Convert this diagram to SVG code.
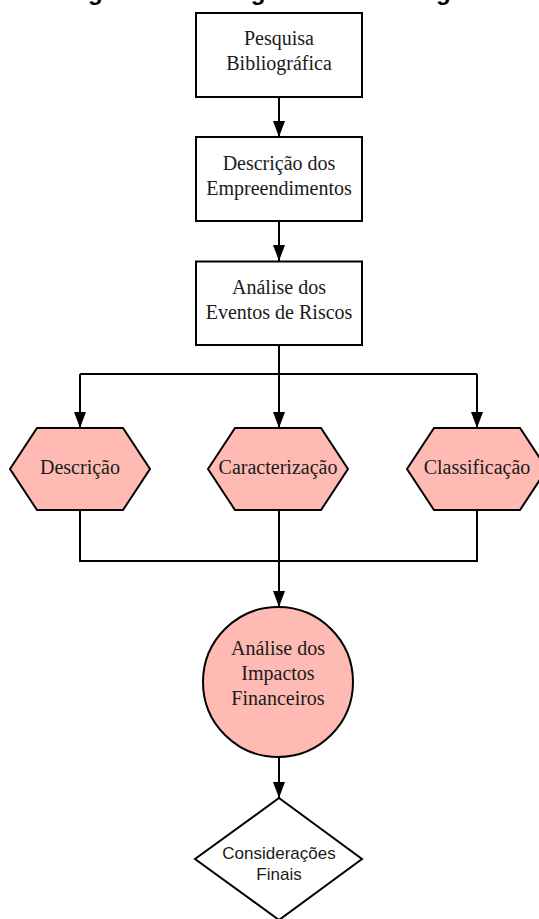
<svg xmlns="http://www.w3.org/2000/svg" width="539" height="919" viewBox="0 0 539 919">
<style>
.box{fill:#fff;stroke:#000;stroke-width:2}
.pink{fill:#FFBBB3;stroke:#000;stroke-width:2}
.t{font-family:"Liberation Serif","Times New Roman",serif;font-size:20px;fill:#1a1a1a;text-anchor:middle}
.s{font-family:"Liberation Sans",Arial,sans-serif;font-size:17px;fill:#1a1a1a;text-anchor:middle}
.title{font-family:"Liberation Sans",Arial,sans-serif;font-size:24px;font-weight:bold;fill:#000;text-anchor:middle}
.c{fill:none;stroke:#000;stroke-width:2}
</style>
<defs>
<marker id="ah" markerUnits="userSpaceOnUse" markerWidth="16" markerHeight="12" refX="16" refY="6" orient="auto">
<path d="M0,0 L16,6 L0,12 z" fill="#000"/>
</marker>
</defs>
<text class="title" x="276" y="0">Figura 3 – Fluxograma Metodológico</text>
<g id="connectors">
<line class="c" x1="279" y1="97" x2="279" y2="137" marker-end="url(#ah)"/>
<line class="c" x1="279" y1="221" x2="279" y2="261" marker-end="url(#ah)"/>
<path class="c" d="M279,345 V374"/>
<path class="c" d="M80,374 H477"/>
<line class="c" x1="80" y1="374" x2="80" y2="428" marker-end="url(#ah)"/>
<line class="c" x1="279" y1="374" x2="279" y2="428" marker-end="url(#ah)"/>
<line class="c" x1="477" y1="374" x2="477" y2="428" marker-end="url(#ah)"/>
<path class="c" d="M80,510 V561 H477 V510"/>
<line class="c" x1="279" y1="510" x2="279" y2="607" marker-end="url(#ah)"/>
<line class="c" x1="279" y1="757" x2="279" y2="798" marker-end="url(#ah)"/>
</g>
<g id="n1">
<rect class="box" x="196" y="13" width="166" height="84"/>
<text class="t" x="279" y="45">Pesquisa</text>
<text class="t" x="279" y="70">Bibliográfica</text>
</g>
<g id="n2">
<rect class="box" x="196" y="137" width="166" height="84"/>
<text class="t" x="279" y="169.5">Descrição dos</text>
<text class="t" x="279" y="194.5">Empreendimentos</text>
</g>
<g id="n3">
<rect class="box" x="196" y="261.5" width="166" height="83.5"/>
<text class="t" x="279" y="294">Análise dos</text>
<text class="t" x="279" y="319">Eventos de Riscos</text>
</g>
<g id="h1">
<polygon class="pink" points="10,469 37,428 123,428 150,469 123,510 37,510"/>
<text class="t" x="80" y="474">Descrição</text>
</g>
<g id="h2">
<polygon class="pink" points="208,469 235,428 321,428 348,469 321,510 235,510"/>
<text class="t" x="278" y="474">Caracterização</text>
</g>
<g id="h3">
<polygon class="pink" points="407,469 434,428 520,428 547,469 520,510 434,510"/>
<text class="t" x="477" y="474">Classificação</text>
</g>
<g id="circ">
<circle class="pink" cx="278" cy="682" r="75"/>
<text class="t" x="278" y="655">Análise dos</text>
<text class="t" x="278" y="680">Impactos</text>
<text class="t" x="278" y="705">Financeiros</text>
</g>
<g id="dia">
<polygon class="box" points="279,798 362,859 279,920 195,859"/>
<text class="s" x="279" y="859">Considerações</text>
<text class="s" x="279" y="880">Finais</text>
</g>
</svg>
